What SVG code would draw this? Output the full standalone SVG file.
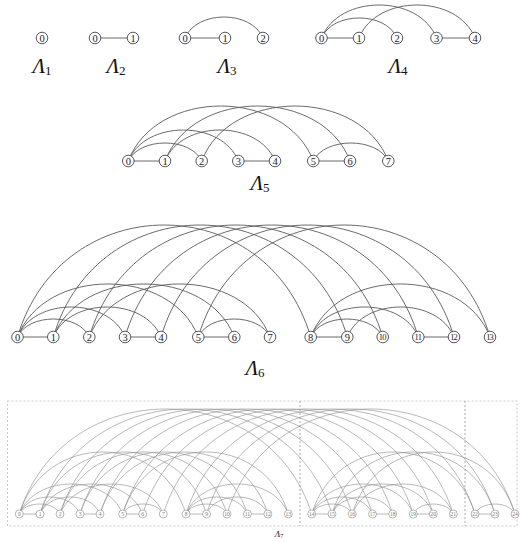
<svg xmlns="http://www.w3.org/2000/svg" width="520" height="542" viewBox="0 0 520 542">
<style>
.e{fill:none;stroke:#5a5a5a;stroke-width:0.9}
.e7{fill:none;stroke:#8a8a8a;stroke-width:0.6}
.n circle{fill:#fff;stroke:#445;stroke-width:0.9}
.n text{font-family:"Liberation Serif",serif;font-size:10.5px;text-anchor:middle;fill:#222}
.n text.dd{font-size:8.5px;letter-spacing:-0.8px}
.m circle{fill:#fff;stroke:#888;stroke-width:0.6}
.m text{font-family:"Liberation Serif",serif;font-size:5.5px;text-anchor:middle;fill:#777}
.lab{font-family:"Liberation Serif",serif;font-size:21px;text-anchor:middle;fill:#111}
.lab tspan.s{font-size:13px;font-style:normal}
.frame{fill:none;stroke:#bbb;stroke-width:0.8;stroke-dasharray:2 2}
.vd{stroke:#888;stroke-width:0.7;stroke-dasharray:2 2}
</style>
<rect width="520" height="542" fill="#fff"/>
<g id="frame7">
<rect class="frame" x="7.5" y="401" width="509.5" height="125"/>
<line class="vd" x1="300" y1="401" x2="300" y2="526"/>
<line class="vd" x1="465" y1="401" x2="465" y2="526"/>
</g>
<g id="connectors">
<g id="c2">
<line class="e" x1="95" y1="38" x2="133" y2="38"/>
</g>
<g id="c3">
<line class="e" x1="185" y1="38" x2="225" y2="38"/>
<path class="e" d="M185,38 C196.7,10 251.3,10 263,38"/>
</g>
<g id="c4">
<line class="e" x1="321.5" y1="38" x2="359" y2="38"/>
<line class="e" x1="436.5" y1="38" x2="475" y2="38"/>
<path class="e" d="M321.5,38 C332.8,11.3 385.7,11.3 397,38"/>
<path class="e" d="M321.5,38 C338.8,-6 419.3,-6 436.5,38"/>
<path class="e" d="M359,38 C376.4,-6 457.6,-6 475,38"/>
</g>
<g id="c5">
<line class="e" x1="128.3" y1="161" x2="165" y2="161"/>
<line class="e" x1="238.3" y1="161" x2="275" y2="161"/>
<line class="e" x1="313.3" y1="161" x2="350" y2="161"/>
<path class="e" d="M128.3,161 C139.3,137 190.7,137 201.7,161"/>
<path class="e" d="M128.3,161 C144.8,119.7 221.8,119.7 238.3,161"/>
<path class="e" d="M165,161 C181.5,119.7 258.5,119.7 275,161"/>
<path class="e" d="M128.3,161 C156,87.7 285.5,87.7 313.3,161"/>
<path class="e" d="M165,161 C192.8,87.7 322.3,87.7 350,161"/>
<path class="e" d="M201.7,161 C229.7,87.7 360.3,87.7 388.3,161"/>
<path class="e" d="M313.3,161 C324.6,137 377,137 388.3,161"/>
</g>
<g id="c6">
<line class="e" x1="17.5" y1="337" x2="53.3" y2="337"/>
<line class="e" x1="125" y1="337" x2="161" y2="337"/>
<line class="e" x1="198.3" y1="337" x2="234.3" y2="337"/>
<line class="e" x1="310.7" y1="337" x2="347.3" y2="337"/>
<line class="e" x1="418.3" y1="337" x2="454" y2="337"/>
<path class="e" d="M17.5,337 C28.3,313 78.5,313 89.3,337"/>
<path class="e" d="M17.5,337 C33.6,297 108.9,297 125,337"/>
<path class="e" d="M53.3,337 C69.5,297 144.8,297 161,337"/>
<path class="e" d="M17.5,337 C44.6,266.3 171.2,266.3 198.3,337"/>
<path class="e" d="M53.3,337 C80.5,266.3 207.1,266.3 234.3,337"/>
<path class="e" d="M89.3,337 C116.4,266.3 242.9,266.3 270,337"/>
<path class="e" d="M198.3,337 C209.1,313 259.2,313 270,337"/>
<path class="e" d="M17.5,337 C61.5,187.7 266.7,187.7 310.7,337"/>
<path class="e" d="M53.3,337 C97.4,187.7 303.2,187.7 347.3,337"/>
<path class="e" d="M89.3,337 C133.3,187.7 338.7,187.7 382.7,337"/>
<path class="e" d="M125,337 C169,187.7 374.3,187.7 418.3,337"/>
<path class="e" d="M161,337 C205,187.7 410,187.7 454,337"/>
<path class="e" d="M198.3,337 C242.1,187.7 446.2,187.7 490,337"/>
<path class="e" d="M310.7,337 C321.5,313 371.9,313 382.7,337"/>
<path class="e" d="M310.7,337 C326.8,297 402.2,297 418.3,337"/>
<path class="e" d="M347.3,337 C363.3,297 438,297 454,337"/>
<path class="e" d="M310.7,337 C337.6,266.3 463.1,266.3 490,337"/>
</g>
<g id="c7">
<line class="e7" x1="19.3" y1="514" x2="40" y2="514"/>
<line class="e7" x1="80" y1="514" x2="100" y2="514"/>
<line class="e7" x1="122.7" y1="514" x2="142.7" y2="514"/>
<line class="e7" x1="186" y1="514" x2="206.5" y2="514"/>
<line class="e7" x1="247.4" y1="514" x2="267.9" y2="514"/>
<line class="e7" x1="311.7" y1="514" x2="332" y2="514"/>
<line class="e7" x1="372.5" y1="514" x2="392.7" y2="514"/>
<line class="e7" x1="413.3" y1="514" x2="433.3" y2="514"/>
<line class="e7" x1="475" y1="514" x2="495" y2="514"/>
<path class="e7" d="M19.3,514 C25.4,500.7 53.9,500.7 60,514"/>
<path class="e7" d="M122.7,514 C128.8,500.7 157.2,500.7 163.3,514"/>
<path class="e7" d="M186,514 C192.2,500.7 220.8,500.7 227,514"/>
<path class="e7" d="M311.7,514 C317.8,500.7 346.1,500.7 352.2,514"/>
<path class="e7" d="M413.3,514 C419.3,500.7 447.3,500.7 453.3,514"/>
<path class="e7" d="M475,514 C481,500.7 509,500.7 515,514"/>
<path class="e7" d="M19.3,514 C28.4,491.3 70.9,491.3 80,514"/>
<path class="e7" d="M40,514 C49,491.3 91,491.3 100,514"/>
<path class="e7" d="M186,514 C195.2,491.3 238.2,491.3 247.4,514"/>
<path class="e7" d="M206.5,514 C215.7,491.3 258.7,491.3 267.9,514"/>
<path class="e7" d="M311.7,514 C320.8,491.3 363.4,491.3 372.5,514"/>
<path class="e7" d="M332,514 C341.1,491.3 383.6,491.3 392.7,514"/>
<path class="e7" d="M19.3,514 C34.8,474 107.2,474 122.7,514"/>
<path class="e7" d="M40,514 C55.4,474 127.3,474 142.7,514"/>
<path class="e7" d="M60,514 C75.5,474 147.8,474 163.3,514"/>
<path class="e7" d="M186,514 C201.3,474 273,474 288.3,514"/>
<path class="e7" d="M311.7,514 C326.9,474 398.1,474 413.3,514"/>
<path class="e7" d="M332,514 C347.2,474 418.1,474 433.3,514"/>
<path class="e7" d="M352.2,514 C367.4,474 438.1,474 453.3,514"/>
<path class="e7" d="M19.3,514 C44.3,431.3 161,431.3 186,514"/>
<path class="e7" d="M40,514 C65,431.3 181.5,431.3 206.5,514"/>
<path class="e7" d="M60,514 C85,431.3 202,431.3 227,514"/>
<path class="e7" d="M80,514 C105.1,431.3 222.3,431.3 247.4,514"/>
<path class="e7" d="M100,514 C125.2,431.3 242.7,431.3 267.9,514"/>
<path class="e7" d="M122.7,514 C147.5,431.3 263.5,431.3 288.3,514"/>
<path class="e7" d="M311.7,514 C336.2,431.3 450.5,431.3 475,514"/>
<path class="e7" d="M332,514 C356.5,431.3 470.5,431.3 495,514"/>
<path class="e7" d="M352.2,514 C376.6,431.3 490.6,431.3 515,514"/>
<path class="e7" d="M19.3,514 C63.2,374 267.8,374 311.7,514"/>
<path class="e7" d="M40,514 C83.8,374 288.2,374 332,514"/>
<path class="e7" d="M60,514 C103.8,374 308.4,374 352.2,514"/>
<path class="e7" d="M80,514 C123.9,374 328.6,374 372.5,514"/>
<path class="e7" d="M100,514 C143.9,374 348.8,374 392.7,514"/>
<path class="e7" d="M122.7,514 C166.3,374 369.7,374 413.3,514"/>
<path class="e7" d="M142.7,514 C186.3,374 389.7,374 433.3,514"/>
<path class="e7" d="M163.3,514 C206.8,374 409.8,374 453.3,514"/>
<path class="e7" d="M186,514 C229.4,374 431.6,374 475,514"/>
<path class="e7" d="M206.5,514 C249.8,374 451.7,374 495,514"/>
<path class="e7" d="M227,514 C270.2,374 471.8,374 515,514"/>
</g>
</g>
<g id="L1">
<g id="L1-n0" class="n"><circle cx="42" cy="38" r="5.8"/><text x="42" y="41.7">0</text></g>
</g>
<g id="L2">
<g id="L2-n0" class="n"><circle cx="95" cy="38" r="5.8"/><text x="95" y="41.7">0</text></g>
<g id="L2-n1" class="n"><circle cx="133" cy="38" r="5.8"/><text x="133" y="41.7">1</text></g>
</g>
<g id="L3">
<g id="L3-n0" class="n"><circle cx="185" cy="38" r="5.8"/><text x="185" y="41.7">0</text></g>
<g id="L3-n1" class="n"><circle cx="225" cy="38" r="5.8"/><text x="225" y="41.7">1</text></g>
<g id="L3-n2" class="n"><circle cx="263" cy="38" r="5.8"/><text x="263" y="41.7">2</text></g>
</g>
<g id="L4">
<g id="L4-n0" class="n"><circle cx="321.5" cy="38" r="5.8"/><text x="321.5" y="41.7">0</text></g>
<g id="L4-n1" class="n"><circle cx="359" cy="38" r="5.8"/><text x="359" y="41.7">1</text></g>
<g id="L4-n2" class="n"><circle cx="397" cy="38" r="5.8"/><text x="397" y="41.7">2</text></g>
<g id="L4-n3" class="n"><circle cx="436.5" cy="38" r="5.8"/><text x="436.5" y="41.7">3</text></g>
<g id="L4-n4" class="n"><circle cx="475" cy="38" r="5.8"/><text x="475" y="41.7">4</text></g>
</g>
<g id="L5">
<g id="L5-n0" class="n"><circle cx="128.3" cy="161" r="5.8"/><text x="128.3" y="164.7">0</text></g>
<g id="L5-n1" class="n"><circle cx="165" cy="161" r="5.8"/><text x="165" y="164.7">1</text></g>
<g id="L5-n2" class="n"><circle cx="201.7" cy="161" r="5.8"/><text x="201.7" y="164.7">2</text></g>
<g id="L5-n3" class="n"><circle cx="238.3" cy="161" r="5.8"/><text x="238.3" y="164.7">3</text></g>
<g id="L5-n4" class="n"><circle cx="275" cy="161" r="5.8"/><text x="275" y="164.7">4</text></g>
<g id="L5-n5" class="n"><circle cx="313.3" cy="161" r="5.8"/><text x="313.3" y="164.7">5</text></g>
<g id="L5-n6" class="n"><circle cx="350" cy="161" r="5.8"/><text x="350" y="164.7">6</text></g>
<g id="L5-n7" class="n"><circle cx="388.3" cy="161" r="5.8"/><text x="388.3" y="164.7">7</text></g>
</g>
<g id="L6">
<g id="L6-n0" class="n"><circle cx="17.5" cy="337" r="5.8"/><text x="17.5" y="340.7">0</text></g>
<g id="L6-n1" class="n"><circle cx="53.3" cy="337" r="5.8"/><text x="53.3" y="340.7">1</text></g>
<g id="L6-n2" class="n"><circle cx="89.3" cy="337" r="5.8"/><text x="89.3" y="340.7">2</text></g>
<g id="L6-n3" class="n"><circle cx="125" cy="337" r="5.8"/><text x="125" y="340.7">3</text></g>
<g id="L6-n4" class="n"><circle cx="161" cy="337" r="5.8"/><text x="161" y="340.7">4</text></g>
<g id="L6-n5" class="n"><circle cx="198.3" cy="337" r="5.8"/><text x="198.3" y="340.7">5</text></g>
<g id="L6-n6" class="n"><circle cx="234.3" cy="337" r="5.8"/><text x="234.3" y="340.7">6</text></g>
<g id="L6-n7" class="n"><circle cx="270" cy="337" r="5.8"/><text x="270" y="340.7">7</text></g>
<g id="L6-n8" class="n"><circle cx="310.7" cy="337" r="5.8"/><text x="310.7" y="340.7">8</text></g>
<g id="L6-n9" class="n"><circle cx="347.3" cy="337" r="5.8"/><text x="347.3" y="340.7">9</text></g>
<g id="L6-n10" class="n"><circle cx="382.7" cy="337" r="5.8"/><text class="dd" x="382.3" y="340">10</text></g>
<g id="L6-n11" class="n"><circle cx="418.3" cy="337" r="5.8"/><text class="dd" x="417.9" y="340">11</text></g>
<g id="L6-n12" class="n"><circle cx="454" cy="337" r="5.8"/><text class="dd" x="453.6" y="340">12</text></g>
<g id="L6-n13" class="n"><circle cx="490" cy="337" r="5.8"/><text class="dd" x="489.6" y="340">13</text></g>
</g>
<g id="L7">
<g id="L7-n0" class="m"><circle cx="19.3" cy="514" r="4"/><text x="19.3" y="516">0</text></g>
<g id="L7-n1" class="m"><circle cx="40" cy="514" r="4"/><text x="40" y="516">1</text></g>
<g id="L7-n2" class="m"><circle cx="60" cy="514" r="4"/><text x="60" y="516">2</text></g>
<g id="L7-n3" class="m"><circle cx="80" cy="514" r="4"/><text x="80" y="516">3</text></g>
<g id="L7-n4" class="m"><circle cx="100" cy="514" r="4"/><text x="100" y="516">4</text></g>
<g id="L7-n5" class="m"><circle cx="122.7" cy="514" r="4"/><text x="122.7" y="516">5</text></g>
<g id="L7-n6" class="m"><circle cx="142.7" cy="514" r="4"/><text x="142.7" y="516">6</text></g>
<g id="L7-n7" class="m"><circle cx="163.3" cy="514" r="4"/><text x="163.3" y="516">7</text></g>
<g id="L7-n8" class="m"><circle cx="186" cy="514" r="4"/><text x="186" y="516">8</text></g>
<g id="L7-n9" class="m"><circle cx="206.5" cy="514" r="4"/><text x="206.5" y="516">9</text></g>
<g id="L7-n10" class="m"><circle cx="227" cy="514" r="4"/><text x="227" y="516">10</text></g>
<g id="L7-n11" class="m"><circle cx="247.4" cy="514" r="4"/><text x="247.4" y="516">11</text></g>
<g id="L7-n12" class="m"><circle cx="267.9" cy="514" r="4"/><text x="267.9" y="516">12</text></g>
<g id="L7-n13" class="m"><circle cx="288.3" cy="514" r="4"/><text x="288.3" y="516">13</text></g>
<g id="L7-n14" class="m"><circle cx="311.7" cy="514" r="4"/><text x="311.7" y="516">14</text></g>
<g id="L7-n15" class="m"><circle cx="332" cy="514" r="4"/><text x="332" y="516">15</text></g>
<g id="L7-n16" class="m"><circle cx="352.2" cy="514" r="4"/><text x="352.2" y="516">16</text></g>
<g id="L7-n17" class="m"><circle cx="372.5" cy="514" r="4"/><text x="372.5" y="516">17</text></g>
<g id="L7-n18" class="m"><circle cx="392.7" cy="514" r="4"/><text x="392.7" y="516">18</text></g>
<g id="L7-n19" class="m"><circle cx="413.3" cy="514" r="4"/><text x="413.3" y="516">19</text></g>
<g id="L7-n20" class="m"><circle cx="433.3" cy="514" r="4"/><text x="433.3" y="516">20</text></g>
<g id="L7-n21" class="m"><circle cx="453.3" cy="514" r="4"/><text x="453.3" y="516">21</text></g>
<g id="L7-n22" class="m"><circle cx="475" cy="514" r="4"/><text x="475" y="516">22</text></g>
<g id="L7-n23" class="m"><circle cx="495" cy="514" r="4"/><text x="495" y="516">23</text></g>
<g id="L7-n24" class="m"><circle cx="515" cy="514" r="4"/><text x="515" y="516">24</text></g>
</g>
<g id="labels">
<text class="lab" x="42" y="73"><tspan font-style="italic">Λ</tspan><tspan class="s" dy="2">1</tspan></text>
<text class="lab" x="116" y="73"><tspan font-style="italic">Λ</tspan><tspan class="s" dy="2">2</tspan></text>
<text class="lab" x="227" y="73"><tspan font-style="italic">Λ</tspan><tspan class="s" dy="2">3</tspan></text>
<text class="lab" x="398" y="73"><tspan font-style="italic">Λ</tspan><tspan class="s" dy="2">4</tspan></text>
<text class="lab" x="260" y="190"><tspan font-style="italic">Λ</tspan><tspan class="s" dy="2">5</tspan></text>
<text class="lab" x="255" y="375"><tspan font-style="italic">Λ</tspan><tspan class="s" dy="2">6</tspan></text>
<text class="lab" x="279" y="537" style="font-size:9px"><tspan font-style="italic">Λ</tspan><tspan dy="1" style="font-size:6px;font-style:normal">7</tspan></text>
</g>
</svg>
